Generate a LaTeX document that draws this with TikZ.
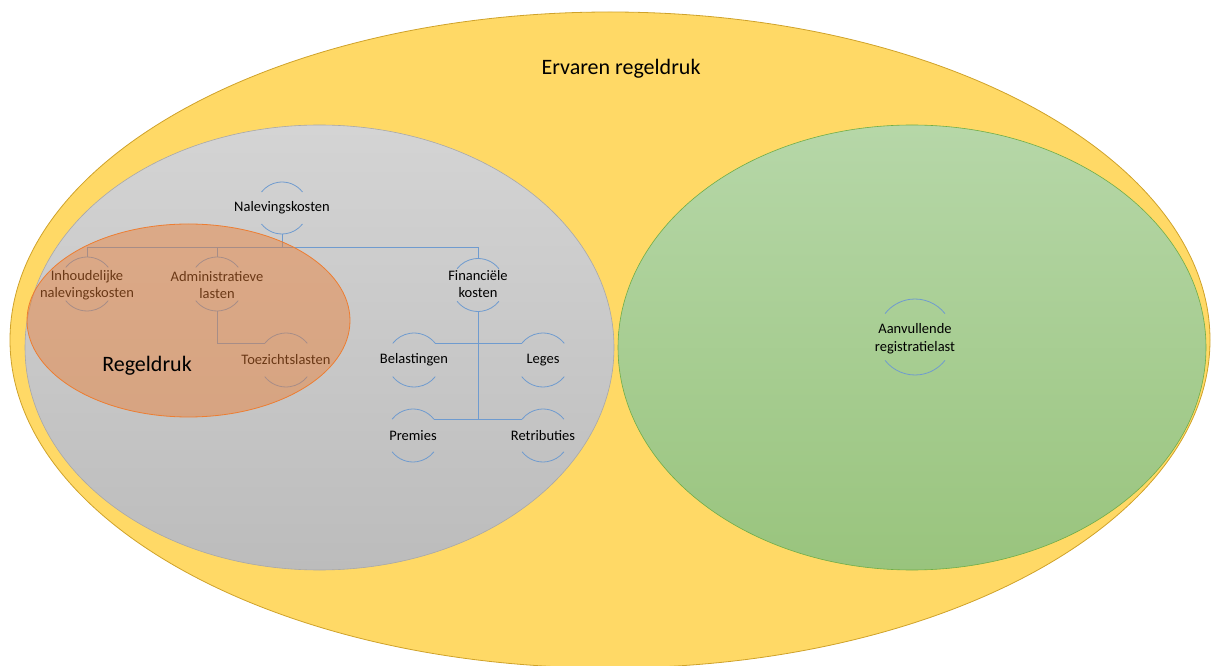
\documentclass[tikz,border=0pt]{standalone}
\usepackage{fontspec}
\setmainfont{Carlito}
\definecolor{goldfill}{HTML}{FFD966}
\definecolor{golddraw}{HTML}{CFA22A}
\definecolor{graytop}{HTML}{D4D4D4}
\definecolor{graybot}{HTML}{BCBCBC}
\definecolor{grayedge}{HTML}{A8A8A8}
\definecolor{greentop}{HTML}{B6D7A8}
\definecolor{greenbot}{HTML}{99C47D}
\definecolor{greenedge}{HTML}{70AD47}
\definecolor{orangefill}{HTML}{ED7D31}
\definecolor{lineblue}{HTML}{6F9BCF}

\begin{document}
\begin{tikzpicture}[x=1pt,y=1pt]
\tikzset{
  hc/.style={circle, minimum size=#1, inner sep=0pt, outer sep=0pt},
  lbl/.style={align=center, font=\fontsize{14.5}{17}\selectfont},
  conn/.style={draw=lineblue, line width=0.8pt},
  harc/.style={draw=lineblue, line width=0.8pt},
}
\def\twoarcs#1#2{%
  \draw[harc] (#1.38) arc[start angle=38, end angle=142, radius=#2];
  \draw[harc] (#1.218) arc[start angle=218, end angle=322, radius=#2];}

\useasboundingbox (0,0) rectangle (1211,665);
\clip (0,0) rectangle (1211,665);

% outer ellipse
\fill[goldfill] (610,325) ellipse [x radius=600, y radius=328];
\draw[golddraw, line width=0.8pt] (610,325) ellipse [x radius=600, y radius=328];
\node[font=\fontsize{22}{26}\selectfont] (ervaren) at (621,596) {Ervaren regeldruk};

% gray and green ellipses
\shade[top color=graytop, bottom color=graybot] (319.5,317.5) ellipse [x radius=294.5, y radius=222.5];
\draw[grayedge, line width=0.6pt] (319.5,317.5) ellipse [x radius=294.5, y radius=222.5];
\shade[top color=greentop, bottom color=greenbot] (912,317.5) ellipse [x radius=294, y radius=222.5];
\draw[greenedge, line width=0.6pt] (912,317.5) ellipse [x radius=294, y radius=222.5];

% hierarchy
\node[hc=52] (nal) at (282,457) {};
\node[hc=54] (inh) at (87,381) {};
\node[hc=54] (adm) at (217,381) {};
\node[hc=54] (toe) at (286,305) {};
\node[hc=53] (fin) at (478,380) {};
\node[hc=54] (bel) at (414,305) {};
\node[hc=54] (leg) at (543,305) {};
\node[hc=53] (pre) at (413,229.5) {};
\node[hc=53] (ret) at (543,229.5) {};
\node[hc=76] (aan) at (915,328) {};

\twoarcs{nal}{26}
\twoarcs{inh}{27}
\twoarcs{adm}{27}
\twoarcs{toe}{27}
\twoarcs{fin}{26.5}
\twoarcs{bel}{27}
\twoarcs{leg}{27}
\twoarcs{pre}{26.5}
\twoarcs{ret}{26.5}
\twoarcs{aan}{38}

\draw[conn] (nal.south) -- ++(0,-13) -| (inh.north);
\draw[conn] (nal.south) -- ++(0,-13) -| (adm.north);
\draw[conn] (nal.south) -- ++(0,-13) -| (fin.north);
\draw[conn] (adm.south) |- (toe.142);
\draw[conn] (fin.south) -- (fin.south |- pre.38);
\draw[conn] (bel.38) -- (leg.142); % belastingen - leges
\draw[conn] (pre.38) -- (ret.142); % premies - retributies

\node[lbl] (nalT) at (nal) {Nalevingskosten};
\node[lbl] (inhT) at ([yshift=-1]inh) {Inhoudelijke\\nalevingskosten};
\node[lbl] (admT) at ([yshift=-1]adm) {Administratieve\\lasten};
\node[lbl] (toeT) at (toe) {Toezichtslasten};
\node[lbl] (finT) at ([yshift=1]fin) {Financi\"ele\\kosten};
\node[lbl] (belT) at (bel) {Belastingen};
\node[lbl] (legT) at (leg) {Leges};
\node[lbl] (preT) at (pre) {Premies};
\node[lbl] (retT) at (ret) {Retributies};
\node[lbl, font=\fontsize{14.5}{18}\selectfont] (aanT) at ([yshift=-2]aan) {Aanvullende\\registratielast};

% regeldruk overlay
\fill[orangefill, fill opacity=0.45] (188.5,344.5) ellipse [x radius=161.5, y radius=96.5];
\draw[orangefill, line width=0.8pt] (188.5,344.5) ellipse [x radius=161.5, y radius=96.5];
\node[font=\fontsize{22}{26}\selectfont] (regel) at (147,299) {Regeldruk};

\end{tikzpicture}
\end{document}
